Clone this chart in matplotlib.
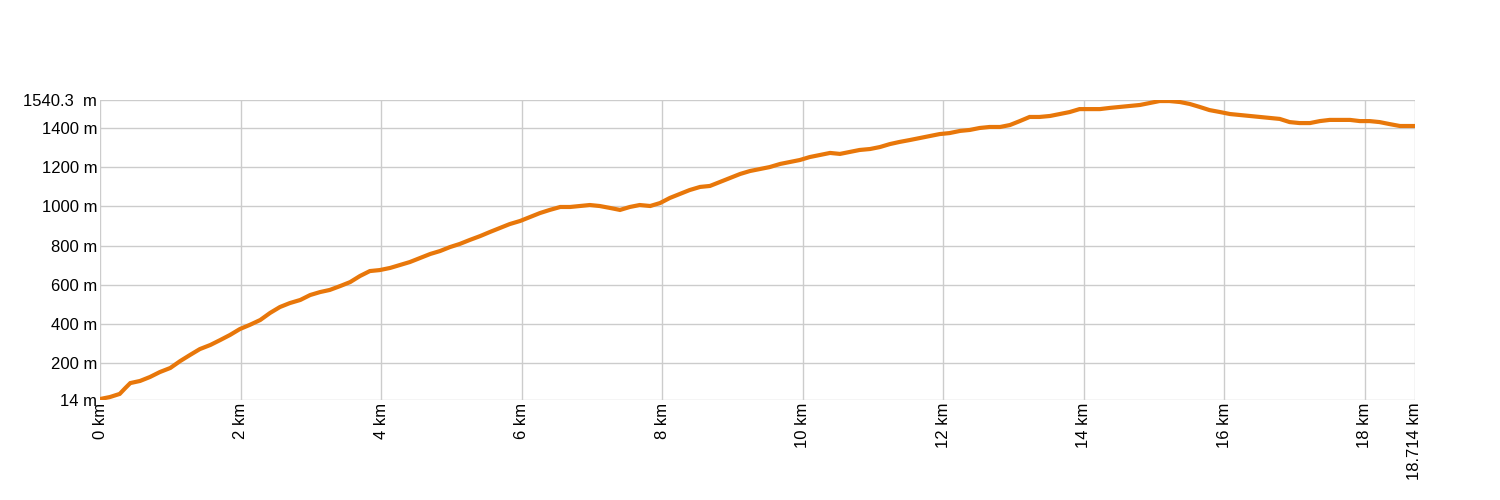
import matplotlib.pyplot as plt

plt.rcParams['font.family'] = ['Liberation Sans', 'DejaVu Sans']

# distance along the track (km) and elevation (m)
dist_km = [0.00, 0.14, 0.28, 0.36, 0.43, 0.57, 0.71, 0.85, 1.00, 1.14,
           1.28, 1.42, 1.57, 1.71, 1.85, 1.99, 2.13, 2.28, 2.42, 2.56,
           2.70, 2.85, 2.99, 3.13, 3.27, 3.42, 3.56, 3.70, 3.84, 3.98,
           4.13, 4.27, 4.41, 4.55, 4.70, 4.84, 4.98, 5.12, 5.26, 5.41,
           5.55, 5.69, 5.83, 5.98, 6.12, 6.26, 6.40, 6.55, 6.69, 6.83,
           6.97, 7.11, 7.26, 7.40, 7.54, 7.68, 7.83, 7.97, 8.11, 8.25,
           8.39, 8.54, 8.68, 8.82, 8.96, 9.11, 9.25, 9.39, 9.53, 9.68,
           9.82, 9.96, 10.10, 10.24, 10.39, 10.53, 10.67, 10.81, 10.96, 11.10,
           11.24, 11.38, 11.53, 11.67, 11.81, 11.95, 12.09, 12.24, 12.38, 12.52,
           12.66, 12.81, 12.95, 13.09, 13.23, 13.37, 13.52, 13.66, 13.80, 13.94,
           14.09, 14.23, 14.37, 14.51, 14.66, 14.80, 14.94, 15.08, 15.22, 15.37,
           15.51, 15.65, 15.79, 15.94, 16.08, 16.22, 16.36, 16.50, 16.65, 16.79,
           16.93, 17.07, 17.22, 17.36, 17.50, 17.64, 17.79, 17.93, 18.07, 18.21,
           18.35, 18.50, 18.714]
elev_m = [19, 29, 45, 75, 100, 111, 131, 156, 177, 212,
          243, 273, 294, 319, 345, 375, 396, 421, 457, 487,
          507, 523, 548, 563, 574, 594, 614, 645, 670, 675,
          686, 701, 716, 736, 757, 772, 792, 808, 828, 848,
          869, 889, 909, 925, 945, 965, 981, 996, 996, 1001,
          1006, 1001, 991, 981, 996, 1006, 1001, 1016, 1042, 1062,
          1082, 1098, 1103, 1123, 1143, 1164, 1179, 1189, 1199, 1215,
          1225, 1235, 1250, 1260, 1271, 1266, 1276, 1286, 1291, 1301,
          1316, 1327, 1337, 1347, 1357, 1367, 1372, 1383, 1388, 1398,
          1403, 1403, 1413, 1433, 1454, 1454, 1459, 1469, 1479, 1494,
          1494, 1494, 1500, 1505, 1510, 1515, 1525, 1535, 1535, 1530,
          1520, 1505, 1489, 1479, 1469, 1464, 1459, 1454, 1449, 1444,
          1428, 1423, 1423, 1433, 1439, 1439, 1439, 1433, 1433, 1428,
          1418, 1408, 1408]

y_ticks = [14, 200, 400, 600, 800, 1000, 1200, 1400, 1540.3]
y_labels = ['14 m', '200 m', '400 m', '600 m', '800 m', '1000 m', '1200 m', '1400 m', '1540.3  m']
x_ticks = [0, 2, 4, 6, 8, 10, 12, 14, 16, 18, 18.714]
x_labels = ['0 km', '2 km', '4 km', '6 km', '8 km', '10 km', '12 km', '14 km', '16 km', '18 km', '18.714 km']

fig = plt.figure(figsize=(15, 5), dpi=100)
ax = fig.add_axes([0.0667, 0.2, 0.8766, 0.6])

ax.plot(dist_km, elev_m, color='#e8770a', linewidth=3, solid_joinstyle='miter')

ax.set_xlim(0, 18.714)
ax.set_ylim(14, 1540.3)
ax.set_xticks(x_ticks)
ax.set_xticklabels(x_labels, rotation=90)
ax.set_yticks(y_ticks)
ax.set_yticklabels(y_labels)
ax.tick_params(length=0, labelsize=12, pad=2)
ax.grid(True, color='#cccccc', linewidth=1)
ax.set_axisbelow(True)
for s in ax.spines.values():
    s.set_visible(False)

fig.savefig('out.png', dpi=100)
